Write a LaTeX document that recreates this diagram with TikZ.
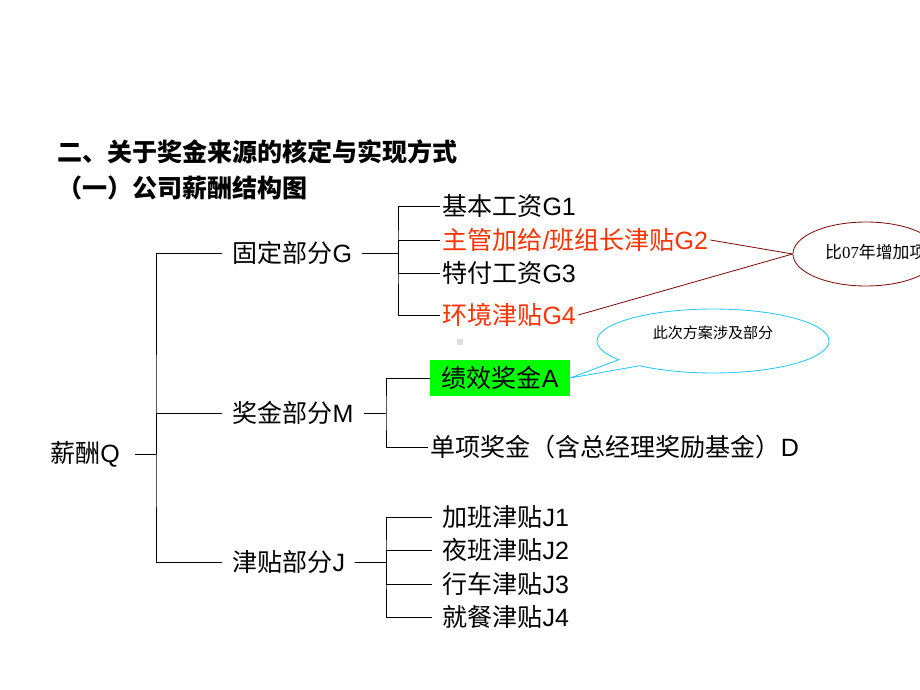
\documentclass[tikz,border=0pt]{standalone}
\usepackage{fontspec}
\setmainfont{Liberation Sans}
\newfontfamily\cjk{Noto Sans CJK SC}
\newfontfamily\tnr{Liberation Serif}
\usetikzlibrary{shapes.geometric,shapes.callouts,calc}
\definecolor{hired}{RGB}{255,51,0}
\definecolor{maroon}{RGB}{128,16,16}
\definecolor{skyline}{RGB}{40,200,255}
\definecolor{boxgreen}{RGB}{0,255,0}
\newcommand{\lat}[1]{{\rmfamily #1}}
\tikzset{
  txt/.style={anchor=west, inner sep=0pt, font=\cjk\fontsize{17.8}{20}\selectfont},
  branch/.style={txt, inner xsep=7.1pt},
  leaf/.style={txt, inner xsep=1.4pt},
  note/.style={inner sep=0pt, font=\cjk\fontsize{10.7}{12}\selectfont},
}
\begin{document}
\begin{tikzpicture}[x=0.025cm, y=-0.025cm, line width=0.6pt]
\useasboundingbox (0,0) rectangle (920,690);
\clip (0,0) rectangle (920,690);

% titles
\node[txt, font=\cjk\bfseries\fontsize{17.8}{20}\selectfont] (title) at (57,152) {二、关于奖金来源的核定与实现方式};
\node[txt, font=\cjk\bfseries\fontsize{17.8}{20}\selectfont] (subtitle) at (57,188) {（一）公司薪酬结构图};

% root and branches
\node[txt] (q) at (50,454) {薪酬\lat{Q}};
\node[branch] (g) at (222,253) {固定部分\lat{G}};
\node[branch] (m) at (222,413) {奖金部分\lat{M}};
\node[branch] (j) at (222,562) {津贴部分\lat{J}};

% fixed part
\node[leaf] (g1) at (440,206) {基本工资\lat{G1}};
\node[leaf, text=hired] (g2) at (440,240) {主管加给\lat{/}班组长津贴\lat{G2}};
\node[leaf] (g3) at (440,273) {特付工资\lat{G3}};
\node[leaf, text=hired] (g4) at (440,315) {环境津贴\lat{G4}};

% bonus part
\node[leaf, fill=boxgreen, minimum height=24.9pt, inner xsep=8pt] (a) at (430,378) {绩效奖金\lat{A}};
\node[leaf] (d) at (428,447) {单项奖金（含总经理奖励基金）\lat{D}};

% allowance part
\node[leaf, inner xsep=7.1pt] (j1) at (432,517) {加班津贴\lat{J1}};
\node[leaf, inner xsep=7.1pt] (j2) at (432,550) {夜班津贴\lat{J2}};
\node[leaf, inner xsep=7.1pt] (j3) at (432,584) {行车津贴\lat{J3}};
\node[leaf, inner xsep=7.1pt] (j4) at (432,617) {就餐津贴\lat{J4}};

% spines
\coordinate (qsp) at (156,454);
\coordinate (gsp) at (398,253);
\coordinate (msp) at (386,413);
\coordinate (jsp) at (386,562);

\draw ($(q.east)+(15,0)$) -- (qsp);
\draw (g.west) -| (qsp) |- (j.west);
\draw (m.west) -| (qsp);

\draw (g.east) -- (gsp);
\draw (g1.west) -| (gsp) |- (g4.west);
\draw (g2.west) -| (gsp);
\draw (g3.west) -| (gsp);

\draw (m.east) -- (msp);
\draw (a.west) -| (msp) |- (d.west);

\draw (j.east) -- (jsp);
\draw (j1.west) -| (jsp) |- (j4.west);
\draw (j2.west) -| (jsp);
\draw (j3.west) -| (jsp);

% notes
\node[note, font=\cjk\fontsize{12}{14}\selectfont, draw=maroon, ellipse, minimum width=103.9pt, minimum height=45.5pt] (plus) at (866,254) {\raisebox{4pt}{\makebox[0pt]{\hspace{14pt}比{\tnr 07}年增加项}}};
\draw[maroon] (g2.east) -- (plus.west);
\draw[maroon] (g4.east) -- (plus.west);

\node[note, ellipse callout, draw=skyline, callout absolute pointer={(a.east)}, minimum width=165pt, minimum height=45.5pt] (bubble) at (713,341) {\raisebox{12.8pt}{此次方案涉及部分}};

\fill[gray!25] (457,339) rectangle (463,345);
\end{tikzpicture}
\end{document}
